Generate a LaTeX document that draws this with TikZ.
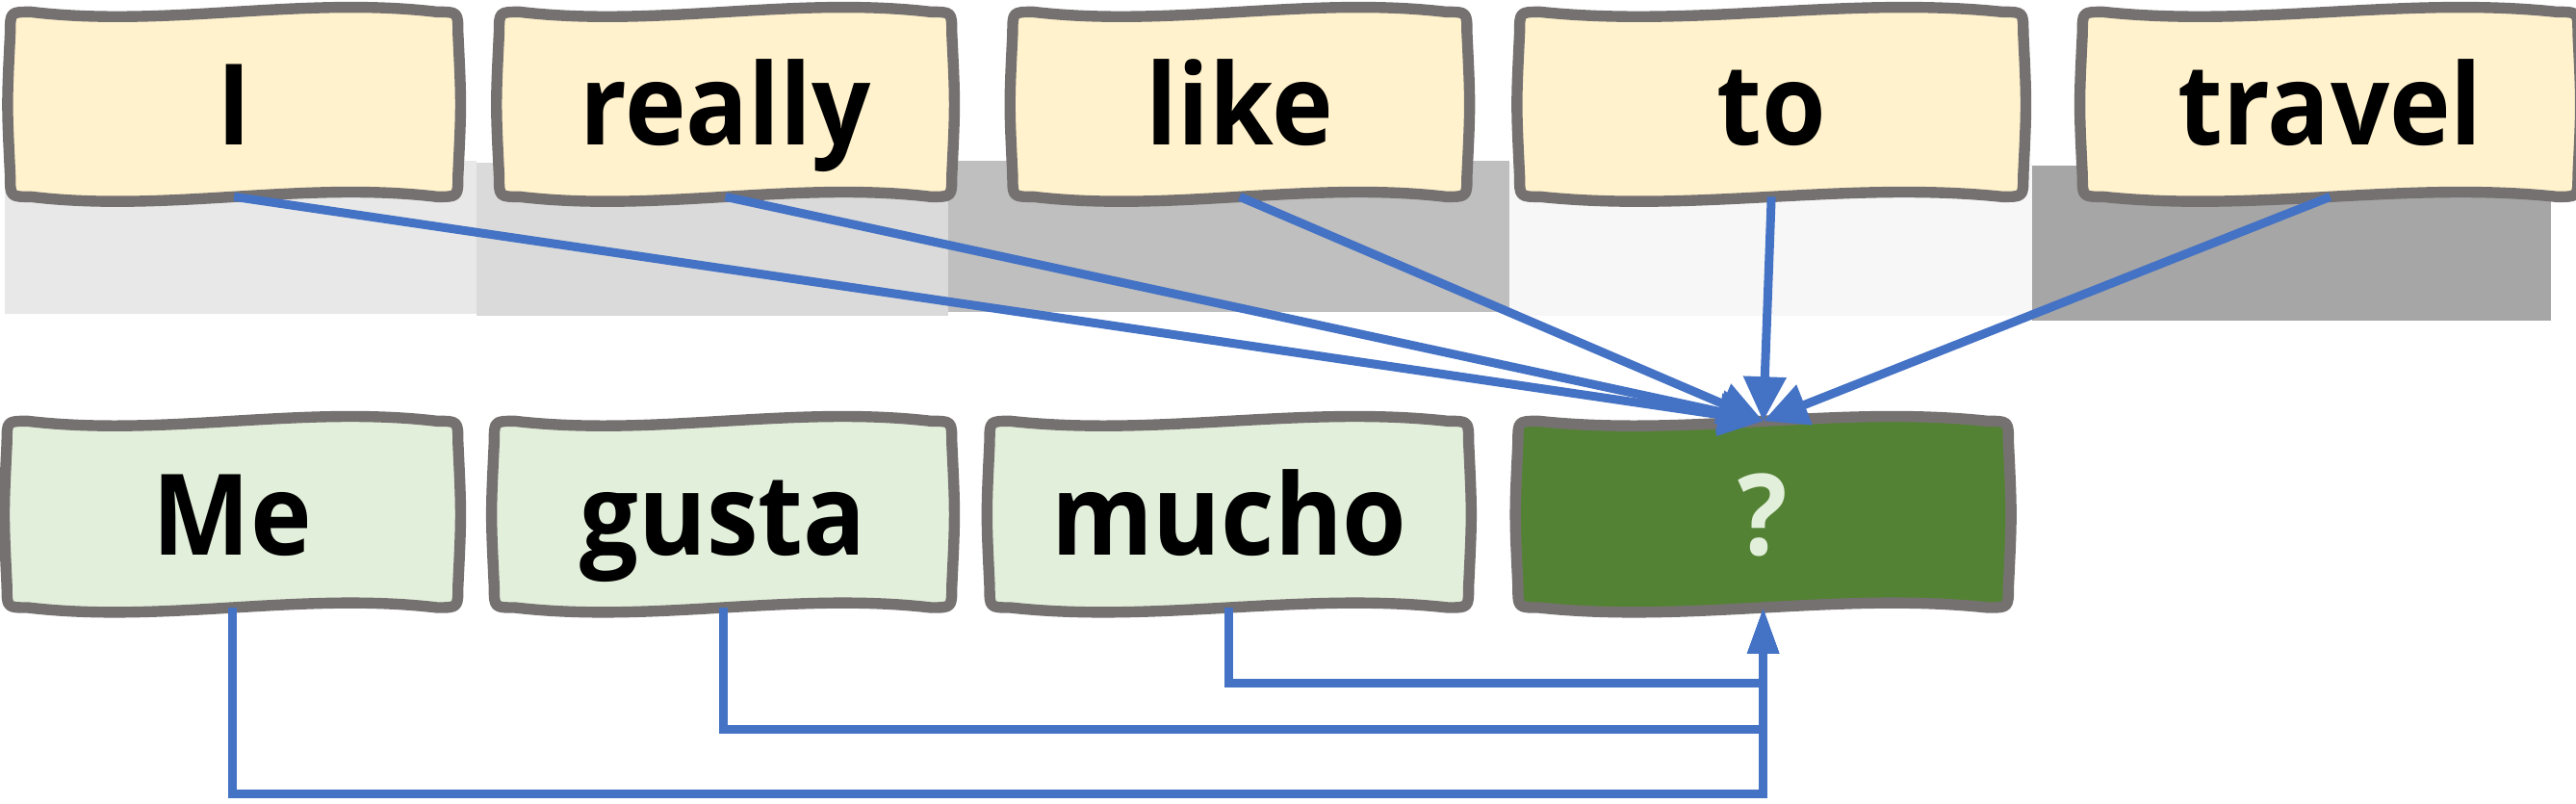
\documentclass[tikz,border=0pt]{standalone}
\usepackage{fontspec}
\setmainfont{Open Sans}[FakeStretch=0.92]
\usepackage{xcolor}
\usepackage{tikz}
\usetikzlibrary{arrows.meta,positioning,calc,backgrounds}

\definecolor{wordfill}{HTML}{FFF2CC}
\definecolor{transfill}{HTML}{E2EFDA}
\definecolor{guessfill}{HTML}{548235}
\definecolor{edgegray}{HTML}{767171}
\definecolor{linkblue}{HTML}{4472C4}
\definecolor{shadeA}{HTML}{E8E8E8}
\definecolor{shadeB}{HTML}{DADADA}
\definecolor{shadeC}{HTML}{BFBFBF}
\definecolor{shadeD}{HTML}{F7F7F7}
\definecolor{shadeE}{HTML}{A6A6A6}

% wavy outline round a named node
\newcommand{\wavybox}[2]{%
  \path[boxline,fill=#2] let \p1=(#1.south west), \p2=(#1.north east) in
    (\x1,{\y2-3.6pt}) .. controls ({\x1-0.6pt},{0.5*(\y1+\y2)}) .. (\x1,{\y1+3.6pt})
    .. controls (\x1,\y1) .. ({\x1+3.6pt},\y1)
    .. controls ({\x1+0.35*(\x2-\x1)},{\y1-2.8pt}) and ({\x1+0.65*(\x2-\x1)},{\y1+2.8pt}) .. ({\x2-3.6pt},\y1)
    .. controls (\x2,\y1) .. (\x2,{\y1+3.6pt})
    .. controls ({\x2+0.6pt},{0.5*(\y1+\y2)}) .. (\x2,{\y2-3.6pt})
    .. controls (\x2,\y2) .. ({\x2-3.6pt},\y2)
    .. controls ({\x1+0.65*(\x2-\x1)},{\y2+2.8pt}) and ({\x1+0.35*(\x2-\x1)},{\y2-2.8pt}) .. ({\x1+3.6pt},\y2)
    .. controls (\x1,\y2) .. (\x1,{\y2-3.6pt}) -- cycle;}

\begin{document}
\begin{tikzpicture}[
    x=0.01cm, y=-0.01cm,
    word/.style={minimum height=1.11cm, text height=0.49cm, text depth=0pt, inner sep=0pt, font=\fontsize{19.5}{20}\selectfont\bfseries},
    boxline/.style={draw=edgegray, line width=1.9pt, line join=round},
    arrow/.style={draw=linkblue, line width=1.5pt, -{Triangle[length=0.27cm,width=0.25cm]}},
    link/.style={draw=linkblue, line width=1.5pt, -{Triangle[length=0.28cm,width=0.18cm]}}
]
\useasboundingbox (0,0) rectangle (1568,488.7);

\node (nI) [word, minimum width=2.71cm] at (142.5,63.5) {I};
\node (nreally) [word, minimum width=2.74cm, right=0.25cm of nI] {really};
\node (nlike) [word, minimum width=2.75cm, right=0.37cm of nreally] {like};
\node (nto) [word, minimum width=3.05cm, right=0.32cm of nlike] {to};
\node (ntravel) [word, minimum width=3.00cm, right=0.36cm of nto] {travel};

\node (nme) [word, minimum height=1.12cm, minimum width=2.73cm] at (141.5,313) {Me};
\node (ngusta) [word, minimum height=1.12cm, minimum width=2.77cm, right=0.22cm of nme] {gusta};
\node (nmucho) [word, minimum height=1.12cm, minimum width=2.90cm, right=0.23cm of ngusta] {mucho};
\node (nnext) [word, minimum height=1.12cm, minimum width=2.97cm, right=0.30cm of nmucho, text=transfill] {?};

\begin{scope}[on background layer]
\fill[shadeA] (3,98) rectangle (290,191);
\fill[shadeB] (290,99) rectangle (577,192);
\fill[shadeC] (577,98) rectangle (919,190);
\fill[shadeD] (919,99) rectangle (1237,192);
\fill[shadeE] (1237,101) rectangle (1553,195);
\wavybox{nI}{wordfill}
\wavybox{nreally}{wordfill}
\wavybox{nlike}{wordfill}
\wavybox{nto}{wordfill}
\wavybox{ntravel}{wordfill}
\wavybox{nme}{transfill}
\wavybox{ngusta}{transfill}
\wavybox{nmucho}{transfill}
\wavybox{nnext}{guessfill}
\end{scope}

\draw [arrow] (nI.south) -- (nnext.north);
\draw [arrow] (nreally.south) -- (nnext.north);
\draw [arrow] (nlike.south) -- (nnext.north);
\draw [arrow] (nto.south) -- (nnext.north);
\draw [arrow] (ntravel.south) -- (nnext.north);

\coordinate (busmucho) at (0,416);
\coordinate (busgusta) at (0,444);
\coordinate (busme) at (0,483);
\draw [link] (nmucho.south) |- (busmucho -| nnext.south) -- (nnext.south);
\draw [link] (ngusta.south) |- (busgusta -| nnext.south) -- (nnext.south);
\draw [link] (nme.south) |- (busme -| nnext.south) -- (nnext.south);

\end{tikzpicture}
\end{document}
